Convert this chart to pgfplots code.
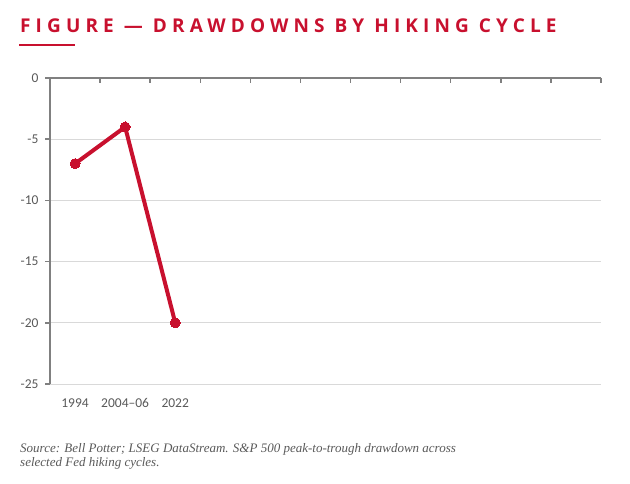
\documentclass[border=0pt]{standalone}
\usepackage{fontspec}
\usepackage{pgfplots}
\pgfplotsset{compat=1.18}
\setmainfont{Carlito}
\newfontfamily\titlefont[LetterSpace=27]{Open Sans}
\newfontfamily\notefont{Liberation Serif}
\definecolor{brandred}{HTML}{C8102E}
\definecolor{axisgrey}{HTML}{808080}
\definecolor{gridgrey}{HTML}{D9D9D9}
\definecolor{textgrey}{HTML}{595959}
\begin{document}
\begin{tikzpicture}[x=1pt,y=1pt]
\useasboundingbox (0,0) rectangle (630,483);
% title and its short rule
\node[anchor=base west, inner sep=0, text=brandred,
      font=\titlefont\bfseries\fontsize{19}{21}\selectfont] at (20,450)
  {FIGURE — DRAWDOWNS BY HIKING CYCLE};
\fill[brandred] (19,436.5) rectangle (75,439);
\begin{axis}[
  scale only axis, width=551pt, height=306pt,
  at={(50pt,99pt)}, anchor=south west,
  xmin=0, xmax=11, ymin=-25, ymax=0,
  axis x line*=bottom, axis y line*=left,
  x axis line style={draw=none},
  y axis line style={draw=axisgrey, line width=2pt, -},
  xtick={0.5,1.5,2.5}, xticklabels={1994,2004--06,2022},
  xtick style={draw=none},
  xticklabel style={font=\fontsize{13.5}{15}\selectfont, text=textgrey, yshift=-6pt},
  ytick={-25,-20,-15,-10,-5,0},
  yticklabels={-25,-20,-15,-10,-5,0},
  ytick style={draw=axisgrey, line width=1.5pt},
  tick align=outside, major tick length=5pt,
  yticklabel style={font=\fontsize{13.5}{15}\selectfont, text=textgrey, xshift=-3pt},
  ymajorgrids, grid style={gridgrey, line width=1pt},
  clip=false,
]
\addplot[brandred, line width=4pt, mark=*, mark size=5pt,
         mark options={fill=brandred, draw=brandred, line width=0pt}]
  coordinates {(0.5,-7) (1.5,-4) (2.5,-20)};
% top axis line with category boundary ticks
\draw[axisgrey, line width=2pt] (axis cs:0,0) -- (axis cs:11,0);
\pgfplotsinvokeforeach{1,...,11}{
  \draw[axisgrey, line width=1.5pt] (axis cs:#1,0) -- ++(0pt,-5pt);
}
\end{axis}
% source note
\node[anchor=base west, inner sep=0, text=textgrey,
      font=\notefont\itshape\fontsize{13}{16}\selectfont] at (20,31)
  {Source: Bell Potter; LSEG DataStream. S\&P 500 peak-to-trough drawdown across};
\node[anchor=base west, inner sep=0, text=textgrey,
      font=\notefont\itshape\fontsize{13}{16}\selectfont] at (20,17)
  {selected Fed hiking cycles.};
\end{tikzpicture}
\end{document}
